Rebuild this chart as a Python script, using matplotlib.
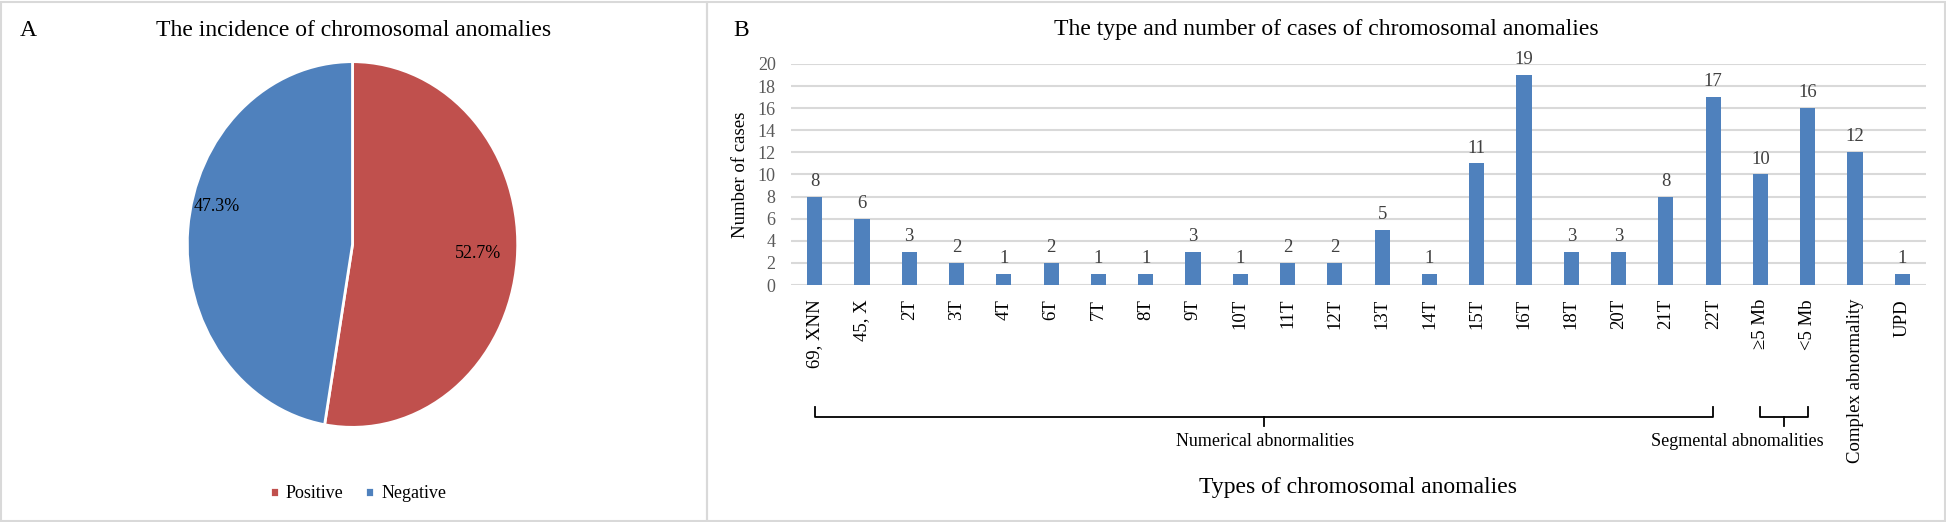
import numpy as np
import matplotlib.pyplot as plt
from matplotlib.patches import Rectangle
from matplotlib.transforms import blended_transform_factory

plt.rcParams['font.family'] = ['Liberation Serif', 'DejaVu Serif']

# Panel A: incidence
pie_labels = ['Positive', 'Negative']
pie_values = [52.7, 47.3]
pie_colors = ['#C0504D', '#4F81BD']

# Panel B: type and number of cases
categories = ['69, XNN', '45, X', '2T', '3T', '4T', '6T', '7T', '8T', '9T', '10T',
              '11T', '12T', '13T', '14T', '15T', '16T', '18T', '20T', '21T', '22T',
              '≥5 Mb', '<5 Mb', 'Complex abnormality', 'UPD']
cases = [8, 6, 3, 2, 1, 2, 1, 1, 3, 1, 2, 2, 5, 1, 11, 19, 3, 3, 8, 17, 10, 16, 12, 1]

W, H = 1946, 522
fig = plt.figure(figsize=(W / 100, H / 100), dpi=100)


def fx(px):
    return px / W


def fy(py):
    return 1 - py / H


# panel frames
for x0, x1 in [(1, 707), (707, 1945)]:
    fig.add_artist(Rectangle((fx(x0), fy(521)), fx(x1 - x0), 519 / H, transform=fig.transFigure,
                             fill=False, edgecolor='#D9D9D9', linewidth=1.5))

# ---------- panel A ----------
ax1 = fig.add_axes([fx(184), fy(431), fx(337), 373 / H])
wedges, texts, autotexts = ax1.pie(pie_values, colors=pie_colors, startangle=90, counterclock=False,
                                   autopct='%1.1f%%', pctdistance=0.75,
                                   wedgeprops=dict(edgecolor='white', linewidth=2),
                                   textprops=dict(fontsize=13))
ax1.set_aspect('auto')
ax1.set_xlim(-1.02, 1.02)
ax1.set_ylim(-1.02, 1.02)
# Excel "best fit" label placement
autotexts[0].set_position((0.76, -0.05))
autotexts[1].set_position((-0.82, 0.21))

fig.text(fx(20), fy(30), 'A', fontsize=17, va='center', ha='left')
fig.text(fx(354), fy(30), 'The incidence of chromosomal anomalies', fontsize=17, va='center', ha='center')
fig.legend(wedges, pie_labels, loc='center', bbox_to_anchor=(fx(358), fy(494)), ncol=2, frameon=False,
           fontsize=13, handlelength=0.5, handleheight=0.5, handletextpad=0.4, columnspacing=1.2)

# ---------- panel B ----------
ax2 = fig.add_axes([fx(791), fy(285), fx(1926 - 791), (285 - 64) / H])
x = np.arange(len(categories))
bars = ax2.bar(x, cases, width=0.32, color='#4F81BD', zorder=3)
ax2.bar_label(bars, padding=5, fontsize=13.5, color='#404040')
ax2.set_xlim(-0.5, len(categories) - 0.5)
ax2.set_ylim(0, 20)
ax2.set_yticks(np.arange(0, 21, 2))
ax2.yaxis.grid(True, color='#D9D9D9', linewidth=1.5, zorder=0)
ax2.set_axisbelow(True)
for s in ax2.spines.values():
    s.set_visible(False)
ax2.set_xticks(x)
ax2.set_xticklabels(categories, rotation=90, va='top', ha='center')
ax2.tick_params(axis='x', length=0, pad=10, labelsize=13.5, labelcolor='#000000')
ax2.tick_params(axis='y', length=0, pad=11, labelsize=13, labelcolor='#595959')
ax2.set_ylabel('Number of cases', fontsize=13.5, labelpad=6)

fig.text(fx(741), fy(30), 'B', fontsize=17, va='center', ha='center')
fig.text(fx(1326), fy(30), 'The type and number of cases of chromosomal anomalies', fontsize=17,
         va='center', ha='center')
fig.text(fx(1358), fy(487), 'Types of chromosomal anomalies', fontsize=17, va='center', ha='center')

# group brackets
tr = blended_transform_factory(ax2.transData, fig.transFigure)
groups = [(0, 19, 'Numerical abnormalities', 1265), (20, 21, 'Segmental abnomalities', 1737)]
for i0, i1, name, tx in groups:
    mid = (i0 + i1) / 2
    ax2.plot([i0, i0, i1, i1], [fy(407), fy(417), fy(417), fy(407)], color='black', lw=1.3,
             transform=tr, clip_on=False)
    ax2.plot([mid, mid], [fy(417), fy(426)], color='black', lw=1.3, transform=tr, clip_on=False)
    fig.text(fx(tx), fy(441), name, fontsize=13, va='center', ha='center')

fig.savefig('out.png', dpi=100)
